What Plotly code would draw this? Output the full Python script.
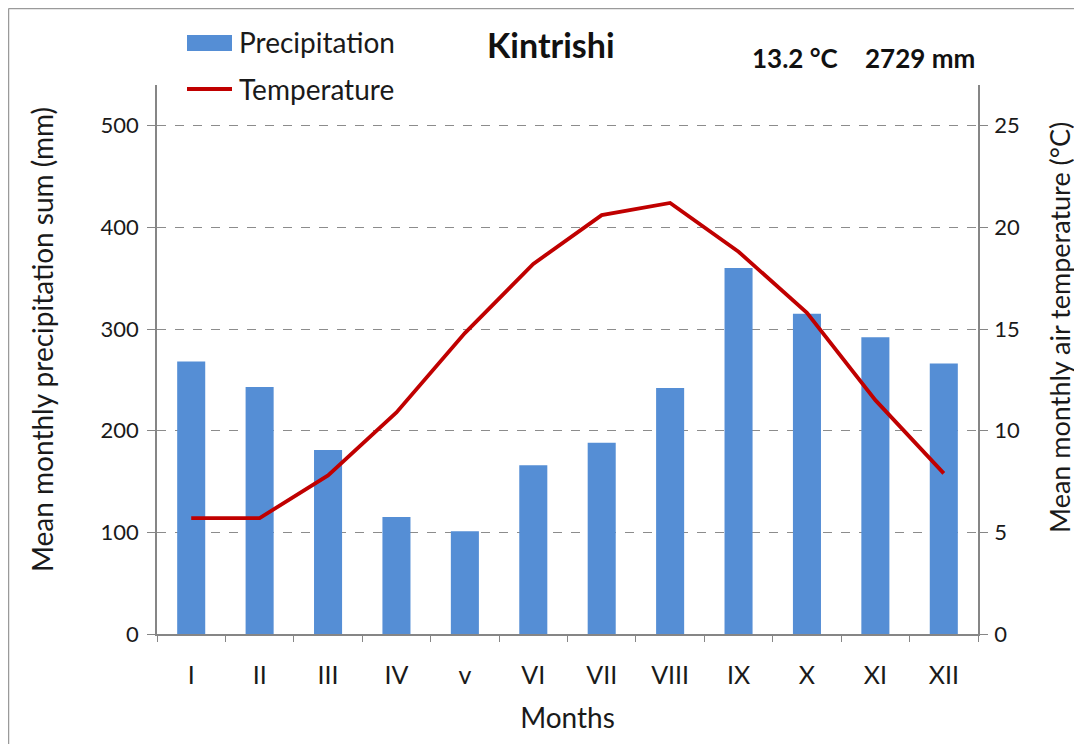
import plotly.graph_objects as go

months = ["I", "II", "III", "IV", "v", "VI", "VII", "VIII", "IX", "X", "XI", "XII"]
precip_mm = [268, 243, 181, 115, 101, 166, 188, 242, 360, 315, 292, 266]
temp_c = [5.7, 5.7, 7.8, 10.9, 14.8, 18.2, 20.6, 21.2, 18.8, 15.8, 11.5, 7.9]
left_ticks = [0, 100, 200, 300, 400, 500]
right_ticks = [0, 5, 10, 15, 20, 25]

FONT = "Lato"
TXT = "#1a1a1a"
# page body has an 8px offset; figure covers screen 8..1082 x 8..744
OFF = 8
W, H = 1082 - OFF, 744 - OFF
SL, SR, ST, SB = 157, 978, 85, 634  # plot area in screen px
L, R, T, B = SL - OFF, W - (SR - OFF), ST - OFF, H - (SB - OFF)
pw, ph = SR - SL, SB - ST


def px(x):
    return (x - SL) / pw


def py(y):
    return (SB - y) / ph


def label(text, x, y, size, xanchor="center", angle=0, color=TXT):
    return dict(text=text, x=px(x), y=py(y), xref="paper", yref="paper",
                xanchor=xanchor, yanchor="middle", showarrow=False, textangle=angle,
                font=dict(family=FONT, size=size, color=color))


fig = go.Figure()
fig.add_trace(go.Bar(
    x=months, y=precip_mm, name="Precipitation",
    marker=dict(color="#558ED5", line=dict(width=0)),
    width=0.41, yaxis="y", showlegend=False,
))
fig.add_trace(go.Scatter(
    x=months, y=temp_c, name="Temperature", mode="lines",
    line=dict(color="#C00000", width=3.8), yaxis="y2", showlegend=False,
))

axis_grey = "#868686"
fig.update_layout(
    width=W, height=H,
    margin=dict(l=L, r=R, t=T, b=B),
    paper_bgcolor="white", plot_bgcolor="white",
    font=dict(family=FONT, size=22, color=TXT),
    showlegend=False,
    xaxis=dict(
        title=dict(text="Months", font=dict(size=28), standoff=21),
        showline=True, linecolor=axis_grey, linewidth=1.5,
        ticks="outside", tickson="boundaries", ticklen=6, tickcolor=axis_grey,
        showgrid=False, tickfont=dict(size=25), ticklabelstandoff=18,
    ),
    yaxis=dict(
        range=[0, 540], tickvals=left_ticks,
        showline=True, linecolor=axis_grey, linewidth=1.5,
        ticks="outside", ticklen=8, tickcolor=axis_grey,
        showgrid=True, gridcolor="#8c8c8c", griddash="dash", gridwidth=1,
        zeroline=False, tickfont=dict(size=22), ticklabelstandoff=4,
    ),
    yaxis2=dict(
        range=[0, 27], tickvals=right_ticks, overlaying="y", side="right",
        showline=True, linecolor=axis_grey, linewidth=1.5,
        ticks="outside", ticklen=8, tickcolor=axis_grey,
        showgrid=False, zeroline=False, tickfont=dict(size=22), ticklabelstandoff=2,
    ),
    annotations=[
        label("<b>Kintrishi</b>", 551, 45, 34, color="#111"),
        label("<b>13.2 °C</b>", 795, 58, 26, color="#111"),
        label("<b>2729 mm</b>", 920, 58, 26, color="#111"),
        # axis titles
        label("Mean monthly precipitation sum (mm)", 42, 340, 28, angle=-90),
        label("Mean monthly air temperature (°C)", 1059, 328, 27, angle=-90),
        # legend labels
        label("Precipitation", 237, 42, 28, xanchor="left"),
        label("Temperature", 237, 89, 28, xanchor="left"),
    ],
    shapes=[
        # legend keys
        dict(type="rect", xref="paper", yref="paper",
             x0=px(187), x1=px(232), y0=py(51), y1=py(35),
             fillcolor="#558ED5", line=dict(width=0)),
        dict(type="line", xref="paper", yref="paper",
             x0=px(187), x1=px(232), y0=py(89), y1=py(89),
             line=dict(color="#C00000", width=3.8)),
        # frame (top and left edges)
        dict(type="line", xref="paper", yref="paper",
             x0=px(8.5), x1=px(1082), y0=py(8.5), y1=py(8.5),
             line=dict(color="#9a9a9a", width=1.5)),
        dict(type="line", xref="paper", yref="paper",
             x0=px(8.5), x1=px(8.5), y0=py(744), y1=py(8.5),
             line=dict(color="#9a9a9a", width=1.5)),
    ],
)

fig.write_html("out.html")
